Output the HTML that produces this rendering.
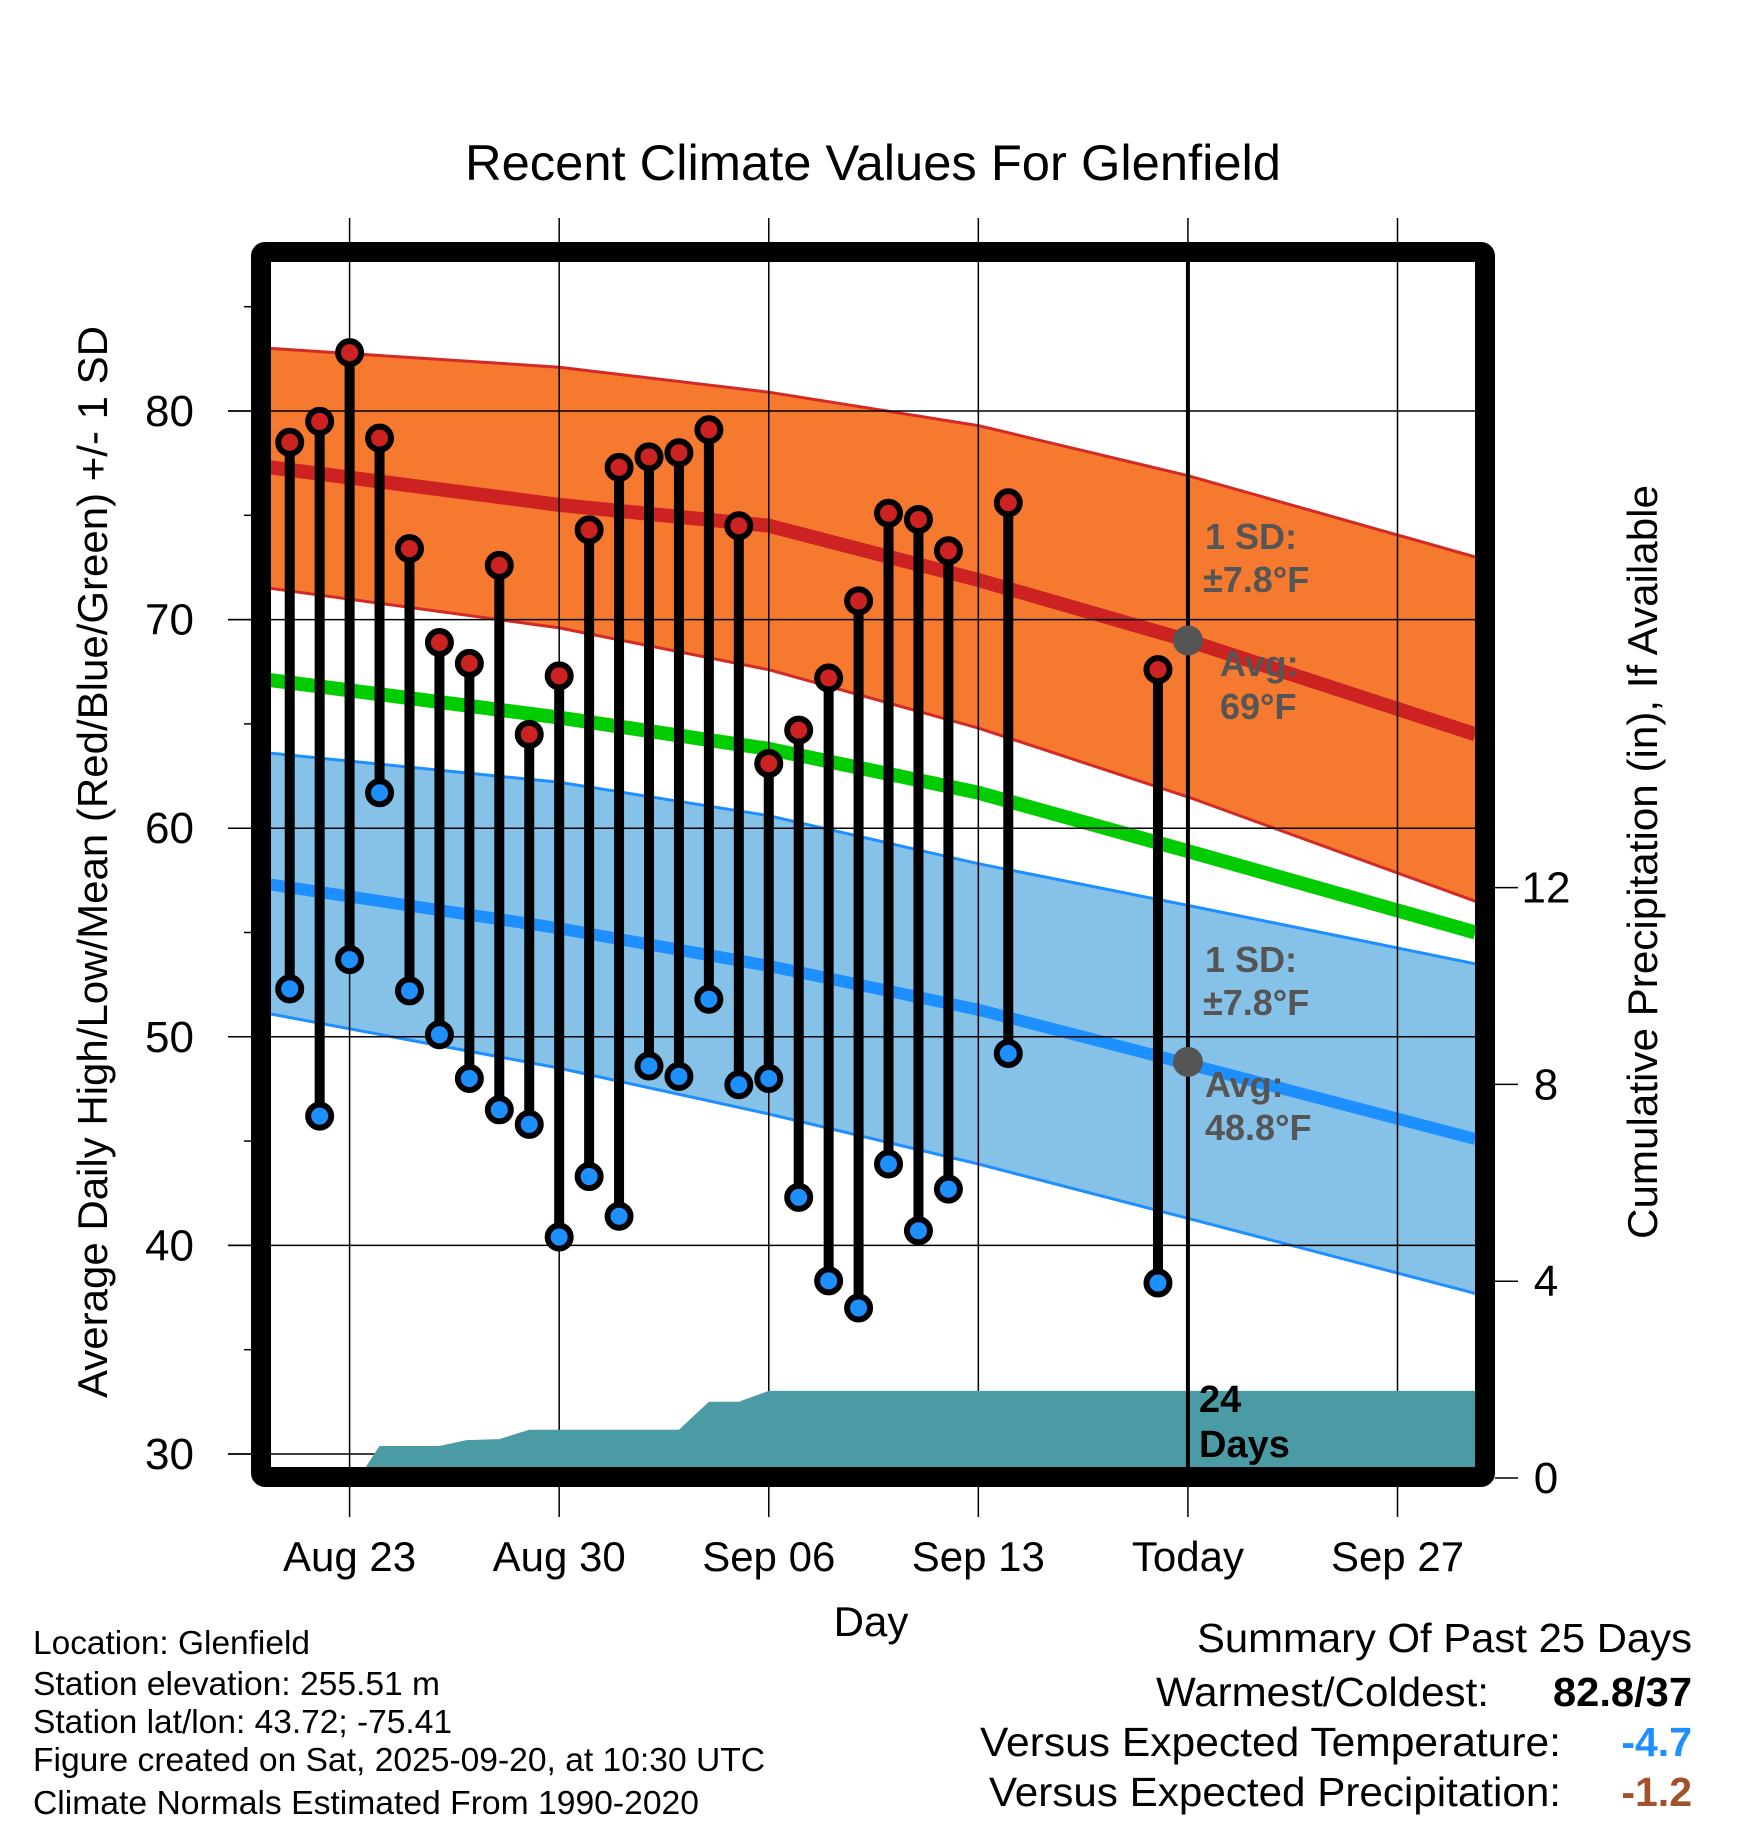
<!DOCTYPE html>
<html><head><meta charset="utf-8"><style>
html,body{margin:0;padding:0;background:#fff;}
svg{display:block;font-family:"Liberation Sans",Arial,sans-serif;}
</style></head><body>
<svg id="chart" width="1748" height="1828" viewBox="0 0 1748 1828" xmlns="http://www.w3.org/2000/svg">
<defs><clipPath id="plotclip"><rect x="270" y="262" width="1206" height="1206"/></clipPath></defs>
<g id="bands" clip-path="url(#plotclip)"></g>
<g id="grid"></g>
<g id="precip" clip-path="url(#plotclip)"></g>
<g id="stems"></g>
<g id="frame"></g>
<g id="labels"></g>
</svg>
<script>
// ---- data ----
const climDays = [-2.65, 7, 14, 21, 28, 37.6]; // days since Aug 23
const sdTop   = [83.0, 82.1, 80.9, 79.3, 76.9, 73.0];
const avgHigh = [77.3, 75.5, 74.5, 71.9, 69.0, 64.5];
const sdHighBot = [71.5, 69.6, 67.6, 64.8, 61.5, 56.5];
const meanTemp = [67.1, 65.3, 63.8, 61.7, 58.9, 55.0];
const sdLowTop = [63.6, 62.2, 60.6, 58.3, 56.3, 53.5];
const avgLow  = [57.3, 55.2, 53.4, 51.3, 48.7, 45.1];
const sdLowBot = [51.1, 48.5, 46.3, 43.9, 41.3, 37.7];
const obsDays = [-2,-1,0,1,2,3,4,5,6,7,8,9,10,11,12,13,14,15,16,17,18,19,20,22,27];
const highs = [78.5,79.5,82.8,78.7,73.4,68.9,67.9,72.6,64.5,67.3,74.3,77.3,77.8,78.0,79.1,74.5,63.1,64.7,67.2,70.9,75.1,74.8,73.3,75.6,67.6];
const lows  = [52.3,46.2,53.7,61.7,52.2,50.1,48.0,46.5,45.8,40.4,43.3,41.4,48.6,48.1,51.8,47.7,48.0,42.3,38.3,37.0,43.9,40.7,42.7,49.2,38.2];
const precipDays = [-3,0.3,1,3,3.9,5,6,11,12,13,14,40];
const precipVals = [0,0,0.65,0.65,0.77,0.79,0.98,0.98,1.55,1.55,1.77,1.77];
const xTickDays = [0,7,14,21,28,35];
const xTickLabels = ["Aug 23","Aug 30","Sep 06","Sep 13","Today","Sep 27"];
const yTicks = [30,40,50,60,70,80];
const pTicks = [0,4,8,12];
// ---- scales ----
const X = d => 349.6 + 29.94*d;
const Y = v => 411 + (80 - v)*20.86;
const P = p => 1478 - p*49.2;
const NS = "http://www.w3.org/2000/svg";
function mk(tag, parent, attrs){const e=document.createElementNS(NS,tag);for(const k in attrs)e.setAttribute(k,attrs[k]);parent.appendChild(e);return e;}
const G = id => document.getElementById(id);
const pts = (arr) => climDays.map((d,i)=>X(d).toFixed(1)+","+Y(arr[i]).toFixed(1));
function band(top, bot, fill, name){
  const d = "M"+pts(top).join(" L")+" L"+pts(bot).reverse().join(" L")+" Z";
  const p = mk("path", G("bands"), {d:d, fill:fill});
  
  
}
function line(arr, color, w, name){
  const p = mk("polyline", G("bands"), {points:pts(arr).join(" "), fill:"none", stroke:color, "stroke-width":w});
  
  
}
band(sdTop, sdHighBot, "#F5792E", "high-sd-band");
band(sdLowTop, sdLowBot, "#86C1E8", "low-sd-band");
line(sdTop, "#D42A26", 3, "high-sd-upper");
line(sdHighBot, "#D42A26", 3, "high-sd-lower");
line(avgHigh, "#CC2222", 14, "avg-high-line");
line(meanTemp, "#00CC00", 14, "mean-temp-line");
line(sdLowTop, "#1E8FFF", 3, "low-sd-upper");
line(sdLowBot, "#1E8FFF", 3, "low-sd-lower");
line(avgLow, "#1E8FFF", 12, "avg-low-line");
// grid
const grid = G("grid");
yTicks.forEach(v=>{
  const l = mk("line", grid, {x1:228, x2:1476, y1:Y(v), y2:Y(v), stroke:"#000", "stroke-width":1.5});
  
  
});
for(let v=35; v<=85; v+=10){
  const l = mk("line", grid, {x1:244, x2:252, y1:Y(v), y2:Y(v), stroke:"#000", "stroke-width":1.5});
  
  
}
xTickDays.forEach((d,i)=>{
  const l = mk("line", grid, {x1:X(d), x2:X(d), y1:218, y2:1517, stroke:"#000", "stroke-width":1.5});
  
  
});
// precip
let pd = "M"+X(precipDays[0])+","+1480;
precipDays.forEach((d,i)=>{ pd += " L"+X(d).toFixed(1)+","+P(precipVals[i]).toFixed(1); });
pd += " L"+X(precipDays[precipDays.length-1])+",1480 Z";
const pp = mk("path", G("precip"), {d:pd, fill:"#4A9BA4"});


// today line
const tl = mk("line", G("precip"), {x1:X(28), x2:X(28), y1:262, y2:1470, stroke:"#000", "stroke-width":4});


// stems
const st = G("stems");
obsDays.forEach((d,i)=>{
  const x = X(d);
  const s = mk("line", st, {x1:x, x2:x, y1:Y(highs[i]), y2:Y(lows[i]), stroke:"#000", "stroke-width":10});
  
  
  const h = mk("circle", st, {cx:x, cy:Y(highs[i]), r:11.5, fill:"#CC2222", stroke:"#000", "stroke-width":6});
  
  
  const lo = mk("circle", st, {cx:x, cy:Y(lows[i]), r:11.5, fill:"#1E8FFF", stroke:"#000", "stroke-width":6});
  
  
});
[69, 48.8].forEach(v=>{
  const c = mk("circle", st, {cx:X(28), cy:Y(v), r:15, fill:"#555"});
  
  
});
// frame
const fr = mk("rect", G("frame"), {x:261, y:252, width:1224, height:1225, fill:"none", stroke:"#000", "stroke-width":20, rx:4});


// labels
const lab = G("labels");
function txt(s, attrs, name){
  const t = mk("text", lab, attrs); t.textContent = s;
  
  
  return t;
}
yTicks.forEach(v=>{
  const l = mk("line", lab, {x1:228, x2:252, y1:Y(v), y2:Y(v), stroke:"#000", "stroke-width":1.5});
  
  
  txt(String(v), {x:194, y:Y(v)+15, "font-size":44, "text-anchor":"end"}, "y-tick-label");
});
pTicks.forEach(p=>{
  const l = mk("line", lab, {x1:1495, x2:1518, y1:P(p), y2:P(p), stroke:"#000", "stroke-width":1.5});
  
  
  txt(String(p), {x:1546, y:P(p)+15, "font-size":44, "text-anchor":"middle"}, "precip-tick-label");
});
xTickDays.forEach((d,i)=>{
  txt(xTickLabels[i], {x:X(d), y:1571, "font-size":42, "text-anchor":"middle"}, "x-tick-label");
});
</script>
<svg style="position:absolute;left:0;top:0" width="1748" height="1828" xmlns="http://www.w3.org/2000/svg" font-family="Liberation Sans, Arial, sans-serif">
<text x="873" y="180" font-size="50" text-anchor="middle" textLength="816" lengthAdjust="spacingAndGlyphs">Recent Climate Values For Glenfield</text>
<text x="871" y="1636" font-size="42" text-anchor="middle">Day</text>
<text transform="translate(107,862) rotate(-90)" font-size="42" text-anchor="middle" textLength="1072" lengthAdjust="spacingAndGlyphs">Average Daily High/Low/Mean (Red/Blue/Green) +/- 1 SD</text>
<text transform="translate(1657,862) rotate(-90)" font-size="42" text-anchor="middle" textLength="754" lengthAdjust="spacingAndGlyphs">Cumulative Precipitation (in), If Available</text>
<g font-weight="bold" fill="#555" font-size="36">
<text x="1205" y="549">1 SD:</text>
<text x="1203" y="592">±7.8°F</text>
<text x="1220" y="676">Avg:</text>
<text x="1220" y="719">69°F</text>
<text x="1205" y="972">1 SD:</text>
<text x="1203" y="1015">±7.8°F</text>
<text x="1205" y="1097">Avg:</text>
<text x="1205" y="1140">48.8°F</text>
</g>
<g font-weight="bold" fill="#000" font-size="38">
<text x="1199" y="1412">24</text>
<text x="1199" y="1457">Days</text>
</g>
<g font-size="33" lengthAdjust="spacingAndGlyphs">
<text x="33" y="1654" textLength="277" lengthAdjust="spacingAndGlyphs">Location: Glenfield</text>
<text x="33" y="1695" textLength="407" lengthAdjust="spacingAndGlyphs">Station elevation: 255.51 m</text>
<text x="33" y="1733" textLength="419" lengthAdjust="spacingAndGlyphs">Station lat/lon: 43.72; -75.41</text>
<text x="33" y="1771" textLength="732" lengthAdjust="spacingAndGlyphs">Figure created on Sat, 2025-09-20, at 10:30 UTC</text>
<text x="33" y="1814" textLength="666" lengthAdjust="spacingAndGlyphs">Climate Normals Estimated From 1990-2020</text>
</g>
<g font-size="41">
<text x="1197" y="1652" textLength="495" lengthAdjust="spacingAndGlyphs">Summary Of Past 25 Days</text>
<text x="1156" y="1706" textLength="333" lengthAdjust="spacingAndGlyphs">Warmest/Coldest:</text>
<text x="1553" y="1706" font-weight="bold" textLength="139" lengthAdjust="spacingAndGlyphs">82.8/37</text>
<text x="980" y="1756" textLength="581" lengthAdjust="spacingAndGlyphs">Versus Expected Temperature:</text>
<text x="1692" y="1756" font-weight="bold" fill="#1E8FFF" text-anchor="end">-4.7</text>
<text x="989" y="1806" textLength="572" lengthAdjust="spacingAndGlyphs">Versus Expected Precipitation:</text>
<text x="1692" y="1806" font-weight="bold" fill="#A0522D" text-anchor="end">-1.2</text>
</g>
</svg>
</body></html>
